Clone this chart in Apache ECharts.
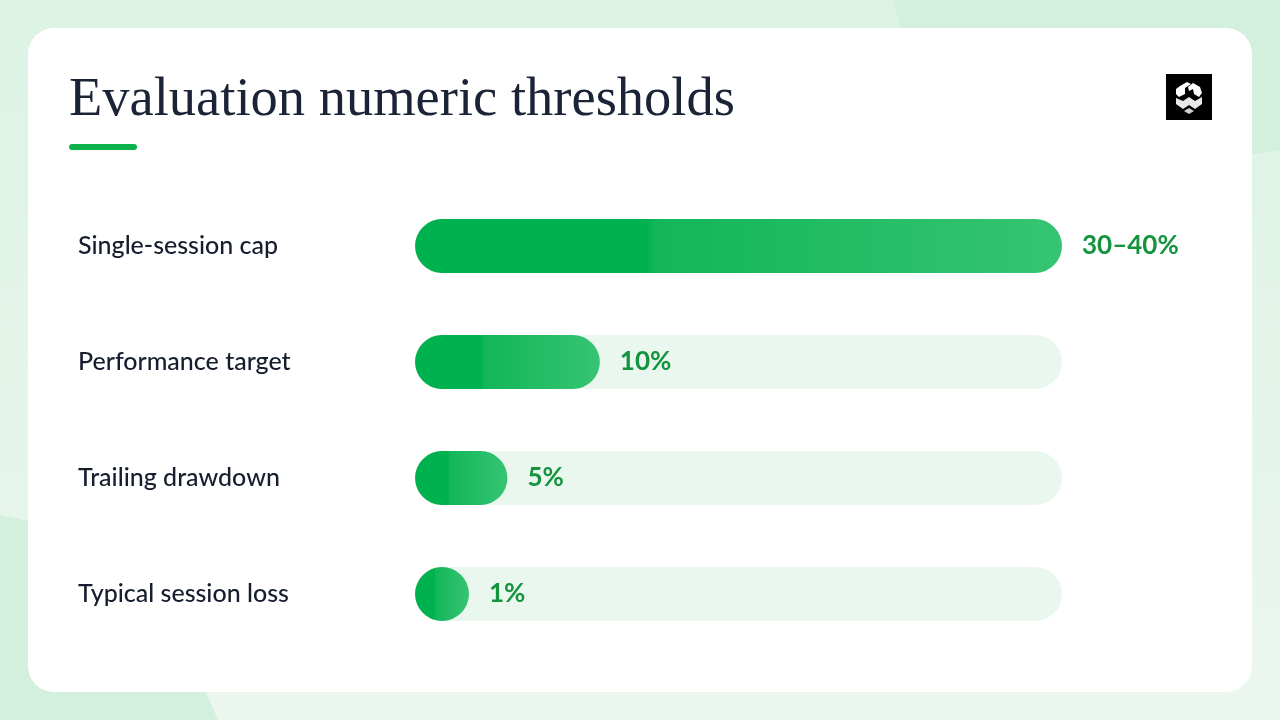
<!DOCTYPE html>
<html>
<head>
<meta charset="utf-8">
<script src="https://cdn.jsdelivr.net/npm/echarts@6/dist/echarts.min.js"></script>
<style>
html,body{margin:0;padding:0;width:1280px;height:720px;overflow:hidden;background:#e4f5ea;}
#chart{width:1280px;height:720px;}
</style>
</head>
<body>
<div id="chart"></div>
<script>
const categories = ['Single-session cap', 'Performance target', 'Trailing drawdown', 'Typical session loss'];
const values = [35, 10, 5, 1];
const valueLabels = ['30–40%', '10%', '5%', '1%'];
const axisMax = 35;
const titleText = 'Evaluation numeric thresholds';

const chart = echarts.init(document.getElementById('chart'), null, {renderer: 'canvas'});

const barGradient = new echarts.graphic.LinearGradient(0, 0, 1, 0, [
  {offset: 0, color: '#00b14f'},
  {offset: 0.36, color: '#00b14f'},
  {offset: 0.37, color: '#12b659'},
  {offset: 1, color: '#36c473'}
]);

const option = {
  animation: false,
  backgroundColor: 'transparent',
  graphic: [
    {type: 'rect', silent: true, z: -10, shape: {x: 0, y: 0, width: 1280, height: 720},
      style: {fill: new echarts.graphic.LinearGradient(0, 0, 0, 1, [
        {offset: 0, color: '#dcf3e4'}, {offset: 1, color: '#ebf6ef'}])}},
    {type: 'polygon', silent: true, z: -9, shape: {points: [[893, 0], [1280, 0], [1280, 150], [1245, 155], [1150, 160], [905, 40]]},
      style: {fill: '#d3efdd'}},
    {type: 'polygon', silent: true, z: -9, shape: {points: [[0, 515], [60, 528], [205, 690], [218, 720], [0, 720]]},
      style: {fill: '#d3efdd'}},
    {type: 'rect', silent: true, z: -5, shape: {x: 28, y: 28, width: 1224, height: 664, r: 26},
      style: {fill: '#ffffff'}},
    {type: 'text', silent: true, left: 69, top: 73,
      style: {text: titleText, font: '400 54.5px "Liberation Serif", "DejaVu Serif", serif', fill: '#1b2436'}},
    {type: 'rect', silent: true, shape: {x: 69, y: 144, width: 68, height: 6, r: 3}, style: {fill: '#0db14b'}},
    {type: 'group', left: 1166, top: 74, children: [
      {type: 'rect', shape: {x: 0, y: 0, width: 46, height: 46}, style: {fill: '#000000'}},
      {type: 'polygon', shape: {points: [[14, 12], [21, 8], [25, 10], [19, 14], [19, 20], [13, 23], [10, 20], [10, 15]]}, style: {fill: '#ffffff'}},
      {type: 'polygon', shape: {points: [[27, 9], [34, 13], [36, 19], [33, 23], [28, 20], [27, 15], [23, 17], [22, 13]]}, style: {fill: '#ffffff'}},
      {type: 'polygon', shape: {points: [[10, 24], [17, 27], [23, 23], [29, 27], [36, 23], [36, 30], [29, 35], [23, 31], [17, 35], [10, 30]]}, style: {fill: '#e8e8e8'}},
      {type: 'polygon', shape: {points: [[18, 37], [23, 34], [28, 37], [23, 40]]}, style: {fill: '#cfcfcf'}}
    ]}
  ],
  grid: {left: 415, right: 218, top: 188, bottom: 68, containLabel: false},
  xAxis: {
    type: 'value', min: 0, max: axisMax,
    show: false
  },
  yAxis: {
    type: 'category', data: categories, inverse: true,
    axisLine: {show: false}, axisTick: {show: false}, splitLine: {show: false},
    axisLabel: {
      align: 'left', margin: 337,
      fontFamily: 'Lato, "Noto Sans", sans-serif', fontSize: 25, fontWeight: 500, color: '#161d2e'
    }
  },
  series: [{
    type: 'bar',
    data: values.map((v, i) => ({value: v, label: {formatter: valueLabels[i]}})),
    barWidth: 54,
    barMinHeight: 54,
    showBackground: true,
    backgroundStyle: {color: '#eaf7ef', borderRadius: 27},
    itemStyle: {color: barGradient, borderRadius: 27},
    label: {
      show: true, position: 'right', distance: 20,
      fontFamily: 'Lato, "Noto Sans", sans-serif', fontSize: 26, fontWeight: 'bold', color: '#14943f'
    },
    silent: true
  }]
};
chart.setOption(option);
</script>
</body>
</html>
